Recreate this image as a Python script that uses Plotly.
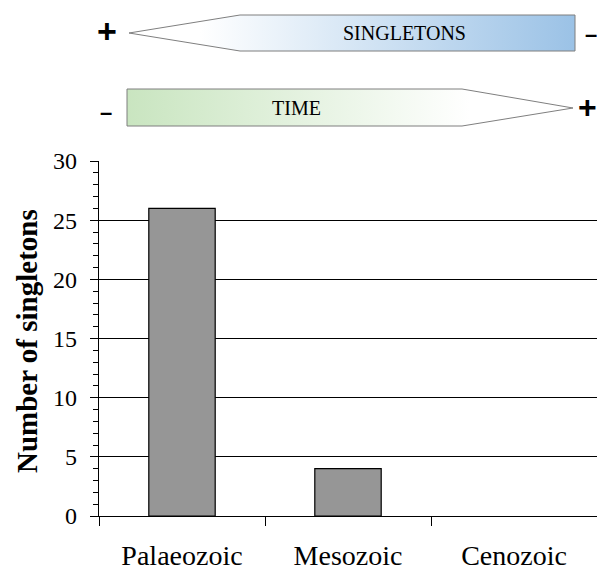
import plotly.graph_objects as go

# ---- data ----
eras = ["Palaeozoic", "Mesozoic", "Cenozoic"]
singletons = [26, 4, 0]
y_ticks = [0, 5, 10, 15, 20, 25, 30]
y_title = "Number of singletons"

W, H = 597, 572
SERIF = "Liberation Serif, Times New Roman, serif"
SANS = "Liberation Sans, Arial, sans-serif"

fig = go.Figure()

# main bar chart (no outline drawn for empty bars)
fig.add_trace(go.Bar(
    x=eras, y=singletons, width=0.4,
    marker=dict(color="#969696",
                line=dict(color="black", width=[1.2 if v > 0 else 0 for v in singletons])),
    xaxis="x", yaxis="y", showlegend=False, hoverinfo="x+y",
))

# ---- decorative arrows (top band, pixel coordinates) ----
top_h = 140
sing_x = [129, 240, 575, 575, 240, 129]
sing_y = [33, 15, 15, 51, 51, 33]
time_x = [127, 462, 573, 462, 127, 127]
time_y = [89, 89, 108, 126, 126, 89]

fig.add_trace(go.Scatter(
    x=sing_x, y=sing_y, mode="lines", fill="toself",
    line=dict(color="#7f7f7f", width=1),
    fillgradient=dict(type="horizontal", start=200, stop=575,
                      colorscale=[[0, "#ffffff"], [1, "#9bc2e6"]]),
    xaxis="x2", yaxis="y2", showlegend=False, hoverinfo="skip",
))
fig.add_trace(go.Scatter(
    x=time_x, y=time_y, mode="lines", fill="toself",
    line=dict(color="#7f7f7f", width=1),
    fillgradient=dict(type="horizontal", start=127, stop=470,
                      colorscale=[[0, "#c9e5c0"], [1, "#ffffff"]]),
    xaxis="x2", yaxis="y2", showlegend=False, hoverinfo="skip",
))

ann = [
    dict(text="SINGLETONS", x=404, y=33, font=dict(family=SERIF, size=20, color="black")),
    dict(text="TIME", x=296, y=108, font=dict(family=SERIF, size=20, color="black")),
    dict(text="<b>+</b>", x=107, y=31, font=dict(family=SANS, size=34, color="black")),
    dict(text="<b>–</b>", x=591, y=34, font=dict(family=SANS, size=22, color="black")),
    dict(text="<b>–</b>", x=106, y=112, font=dict(family=SANS, size=22, color="black")),
    dict(text="<b>+</b>", x=587, y=107, font=dict(family=SANS, size=32, color="black")),
]
for a in ann:
    a.update(xref="x2", yref="y2", showarrow=False, xanchor="center", yanchor="middle")

# y-axis title placed as rotated text
ann.append(dict(
    text="<b>" + y_title + "</b>", textangle=-90,
    x=27 / W, y=1 - 341 / H, xref="paper", yref="paper",
    xanchor="center", yanchor="middle", showarrow=False,
    font=dict(family=SERIF, size=29, color="black"),
))

fig.update_layout(
    width=W, height=H,
    margin=dict(l=0, r=0, t=0, b=0, autoexpand=False),
    paper_bgcolor="white", plot_bgcolor="white",
    annotations=ann,
    xaxis=dict(
        domain=[99 / W, 1], type="category", range=[-0.5, 2.5],
        showline=True, linecolor="black", linewidth=1.3,
        ticks="outside", tickson="boundaries", ticklen=9, tickwidth=1.3, tickcolor="black",
        tickfont=dict(family=SERIF, size=28, color="black"),
        ticklabelstandoff=14, automargin=False,
        showgrid=False, zeroline=False, fixedrange=True,
    ),
    yaxis=dict(
        domain=[1 - 516 / H, 1 - 161 / H], range=[0, 30],
        tickmode="array", tickvals=y_ticks, ticktext=[str(v) for v in y_ticks],
        showline=True, linecolor="black", linewidth=1.3,
        ticks="outside", ticklen=8, tickwidth=1.3, tickcolor="black",
        tickfont=dict(family=SERIF, size=24, color="black"),
        ticklabelstandoff=8, automargin=False,
        showgrid=True, gridcolor="black", gridwidth=1.2,
        zeroline=False,
        minor=dict(dtick=1, ticks="outside", ticklen=5, tickwidth=1.3, tickcolor="black", showgrid=False),
        fixedrange=True,
    ),
    xaxis2=dict(domain=[0, 1], range=[0, W], visible=False, fixedrange=True,
                anchor="y2", automargin=False),
    yaxis2=dict(domain=[1 - top_h / H, 1], range=[top_h, 0], visible=False, fixedrange=True,
                anchor="x2", automargin=False),
)

fig.write_html(
    "out.html",
    config={"displayModeBar": False},
    post_script="document.body.style.margin='0';document.body.style.padding='0';"
                "document.body.style.overflow='hidden';",
)
